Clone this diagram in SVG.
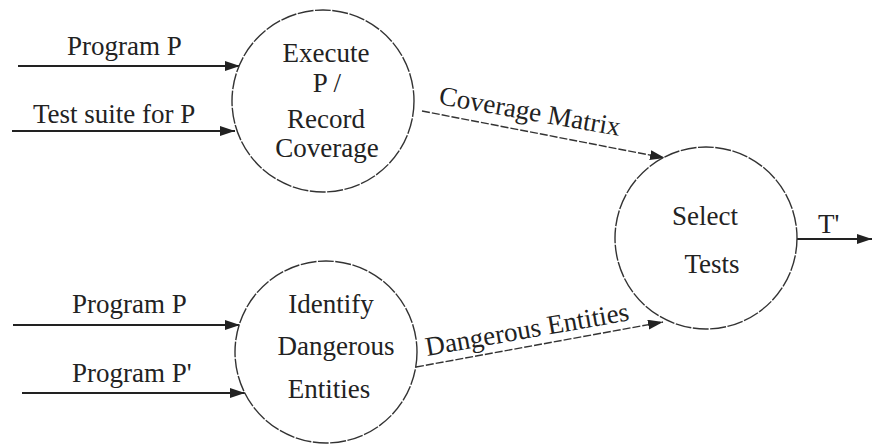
<svg xmlns="http://www.w3.org/2000/svg" width="872" height="447" viewBox="0 0 872 447">
<style>
text{font-family:"Liberation Serif","Times New Roman",serif;font-size:27px;fill:#222}
.c{text-anchor:middle}
.node{fill:#fff;stroke:#333;stroke-width:1.4;stroke-dasharray:16 1.5}
.in{stroke:#222;stroke-width:2.2;fill:none}
.mid{stroke:#333;stroke-width:1.4;fill:none;stroke-dasharray:8 2}
</style>
<defs>
<marker id="ah" markerUnits="userSpaceOnUse" markerWidth="16" markerHeight="10" refX="15" refY="5" orient="auto">
<path d="M0,0 L15,5 L0,10 z" fill="#222"/>
</marker>
</defs>
<g id="connectors">
<line class="in" x1="18" y1="66" x2="240" y2="66" marker-end="url(#ah)"/>
<text x="67" y="55">Program P</text>
<line class="in" x1="12" y1="131" x2="235" y2="131" marker-end="url(#ah)"/>
<text x="33" y="123">Test suite for P</text>
<line class="in" x1="13" y1="325" x2="240" y2="325" marker-end="url(#ah)"/>
<text x="72" y="313">Program P</text>
<line class="in" x1="22" y1="393" x2="245" y2="393" marker-end="url(#ah)"/>
<text x="72" y="382">Program P'</text>
<line class="mid" x1="422" y1="111" x2="665" y2="158" marker-end="url(#ah)"/>
<text transform="translate(438,104) rotate(10)">Coverage Matrix</text>
<line class="mid" x1="416" y1="367" x2="663" y2="322" marker-end="url(#ah)"/>
<text transform="translate(427,356) rotate(-10)">Dangerous Entities</text>
<line class="in" x1="797" y1="239" x2="872" y2="239" marker-end="url(#ah)"/>
<text x="818" y="233">T'</text>
</g>
<g id="execute">
<circle class="node" cx="323" cy="101" r="91"/>
<text class="c" x="326" y="62">Execute</text>
<text class="c" x="327" y="92">P /</text>
<text class="c" x="326" y="128">Record</text>
<text class="c" x="327" y="157">Coverage</text>
</g>
<g id="identify">
<circle class="node" cx="326" cy="352" r="91"/>
<text class="c" x="331" y="313">Identify</text>
<text class="c" x="336" y="355">Dangerous</text>
<text class="c" x="329" y="398">Entities</text>
</g>
<g id="select">
<circle class="node" cx="706" cy="238" r="91"/>
<text class="c" x="705" y="225">Select</text>
<text class="c" x="712" y="273">Tests</text>
</g>
</svg>
